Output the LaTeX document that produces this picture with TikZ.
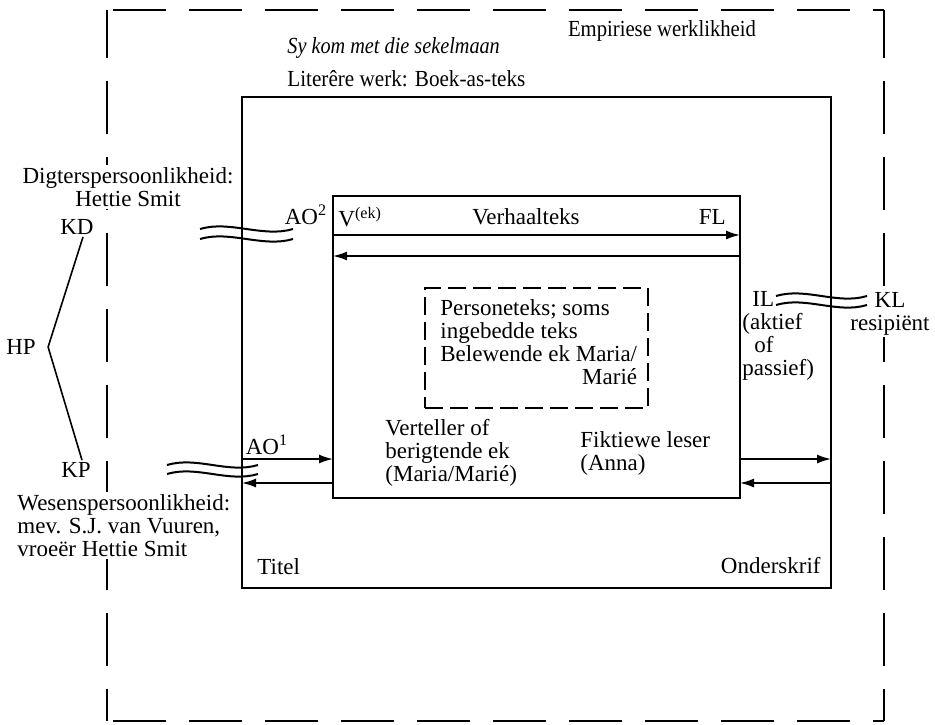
\documentclass[tikz,border=0pt]{standalone}
\usepackage{fontspec}
\setmainfont{Liberation Serif}
\usetikzlibrary{arrows.meta}

\begin{document}
\begin{tikzpicture}[x=0.5pt, y=-0.5pt, font=\fontsize{11.5}{11.5}\selectfont]
% define styles
\tikzstyle{every node} = [inner sep=1pt]
\tikzstyle{frame}      = [draw, inner sep=0pt, outer sep=0pt, anchor=north west]
\tikzstyle{realm}      = [line width=1pt, dash pattern=on 26.5pt off 11.5pt]
\tikzstyle{work}       = [frame, line width=1.3pt]
\tikzstyle{story}      = [frame, line width=0.8pt]
\tikzstyle{inset}      = [frame, line width=1pt, dash pattern=on 9pt off 3.5pt]
\tikzstyle{lbl}        = [fill=white, align=center]
\tikzstyle{flow}       = [line width=0.8pt, -{Latex[length=7pt,width=4.5pt]}]
\tikzstyle{wave}       = [line width=1pt]

\useasboundingbox (0,0) rectangle (935,724);

% frames
\node [frame, draw=none, minimum width=388.5pt, minimum height=355.5pt] (real) at (107,10) {};
\draw [realm, dash phase=2.5pt] (real.north west) -- (real.south west);
\draw [realm, dash phase=2.5pt] (real.north east) -- (real.south east);
\draw [realm, dash phase=35pt] (real.north west) -- (real.north east);
\draw [realm, dash phase=35pt] (real.south west) -- (real.south east);
\node [work,  minimum width=294.5pt, minimum height=245.5pt] (boek) at (242,97) {};
\node [story, minimum width=203.5pt, minimum height=151pt] (verhaal) at (333,196) {};
\node [inset, minimum width=111.5pt, minimum height=60pt] (persone) at (425,288) {};

% texts on top
\node (empiries) at (662,31) {\scalebox{0.9}[1]{Empiriese werklikheid}};
\node [anchor=west] (titelwerk) at (285,48) {\scalebox{0.88}[1]{\itshape Sy kom met die sekelmaan}};
\node [anchor=west] (literer) at (285,79) {\scalebox{0.92}[1]{Literêre werk: Boek-as-teks}};

% texts in the work
\node [anchor=north west, align=left] (personeteks) at (438,297)
  {\begin{tabular}{@{}l@{}}Personeteks; soms\\ ingebedde teks\\ Belewende ek Maria/\\ \multicolumn{1}{@{}r@{}}{Marié}\end{tabular}};
\node [anchor=west] (vek) at (336,217) {V\textsuperscript{(ek)}};
\node (verhaalteks) at (526,217) {Verhaalteks};
\node [anchor=east] (fl) at (728,217) {FL};
\node [anchor=north west, align=left] (verteller) at (383,417) {Verteller of\\ berigtende ek\\ (Maria/Marié)};
\node [anchor=north west, align=left] (leser) at (578,429) {Fiktiewe leser\\ (Anna)};
\node [anchor=west] (titel) at (255,567) {Titel};
\node [anchor=east] (onderskrif) at (823,565) {Onderskrif};
\node (ao2) at (306,215) {AO\textsuperscript{2}};
\node (ao1) at (267,445) {AO\textsuperscript{1}};

% outside the work
\node [lbl] (digter) at (128,187) {Digterspersoonlikheid:\\ Hettie Smit};
\node (kd) at (77,227) {KD};
\node (hp) at (21,347) {HP};
\node (kp) at (76,470) {KP};
\node [lbl, anchor=north west, align=left] (wesens) at (15,492)
  {Wesenspersoonlikheid:\\ mev. S.J. van Vuuren,\\ vroeër Hettie Smit};
\node [anchor=north west, align=left] (il) at (740,289) {\hspace{5pt}IL\\ (aktief\\ \hspace{6pt}of\\ passief)};
\node [lbl] (kl) at (890,314) {KL\\ resipiënt};

% bracket
\draw [line width=0.8pt] ([xshift=3pt]kd.south) -- ([xshift=5pt]hp.east) -- ([xshift=3pt]kp.north);

% arrows
\foreach \n/\y in {a/235, b/256, c/459, d/483}
    \coordinate (h\n) at (0,\y);
\draw [flow] (verhaal.west |- ha) -- (verhaal.east |- ha);
\draw [flow] (verhaal.east |- hb) -- (verhaal.west |- hb);
\draw [flow] (boek.west |- hc) -- (verhaal.west |- hc);
\draw [flow] (verhaal.west |- hd) -- (boek.west |- hd);
\draw [flow] (verhaal.east |- hc) -- (boek.east |- hc);
\draw [flow] (boek.east |- hd) -- (verhaal.east |- hd);

% waves
\foreach \w/\xa/\xb/\y in {1/200/293/229, 2/200/293/239, 3/167/258/465, 4/167/258/474, 5/776/867/296, 6/776/867/305} {
    \coordinate (w\w s) at (\xa,\y);
    \coordinate (w\w e) at (\xb,\y);
    \draw [wave] (w\w s) .. controls +(30,-9) and +(-30,9) .. (w\w e);
}

\end{tikzpicture}
\end{document}
